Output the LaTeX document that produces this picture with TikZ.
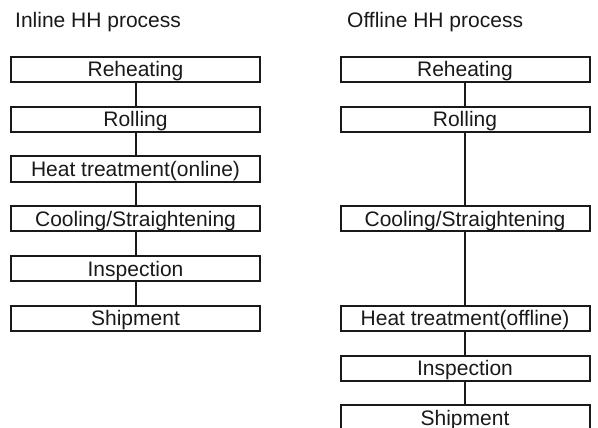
\documentclass[tikz,border=0pt]{standalone}
\usepackage{fontspec}
\setmainfont{Liberation Sans}
\begin{document}
\begin{tikzpicture}[x=1pt,y=-1pt,
  stepbox/.style={draw=black!90, line width=2pt, minimum width=249pt, minimum height=25pt,
    inner sep=0pt, text height=15pt, text depth=0pt, font=\fontsize{21}{25}\selectfont, text=black!90},
  title/.style={anchor=base west, inner sep=0pt, font=\fontsize{21}{25}\selectfont, text=black!90},
  link/.style={draw=black!90, line width=2pt}]
\useasboundingbox (0,0) rectangle (598,428);
\clip (0,0) rectangle (598,428);
\node[title] (tl) at (15,28) {Inline HH process};
\node[title] (tr) at (347,28) {Offline HH process};
% left column
\node[stepbox] (l1) at (135.5,69.5) {Reheating};
\node[stepbox] (l2) at (135.5,119.5) {Rolling};
\node[stepbox] (l3) at (135.5,169) {Heat treatment(online)};
\node[stepbox] (l4) at (135.5,218.5) {Cooling/Straightening};
\node[stepbox] (l5) at (135.5,268.5) {Inspection};
\node[stepbox] (l6) at (135.5,318) {Shipment};
\draw[link] (l1) -- (l2);
\draw[link] (l2) -- (l3);
\draw[link] (l3) -- (l4);
\draw[link] (l4) -- (l5);
\draw[link] (l5) -- (l6);
% right column
\node[stepbox] (r1) at (465,69.5) {Reheating};
\node[stepbox] (r2) at (465,119.5) {Rolling};
\node[stepbox] (r3) at (465,218.5) {Cooling/Straightening};
\node[stepbox] (r4) at (465,318) {Heat treatment(offline)};
\node[stepbox] (r5) at (465,368) {Inspection};
\node[stepbox] (r6) at (465,417.5) {Shipment};
\draw[link] (r1) -- (r2);
\draw[link] (r2) -- (r3);
\draw[link] (r3) -- (r4);
\draw[link] (r4) -- (r5);
\draw[link] (r5) -- (r6);
\end{tikzpicture}
\end{document}
